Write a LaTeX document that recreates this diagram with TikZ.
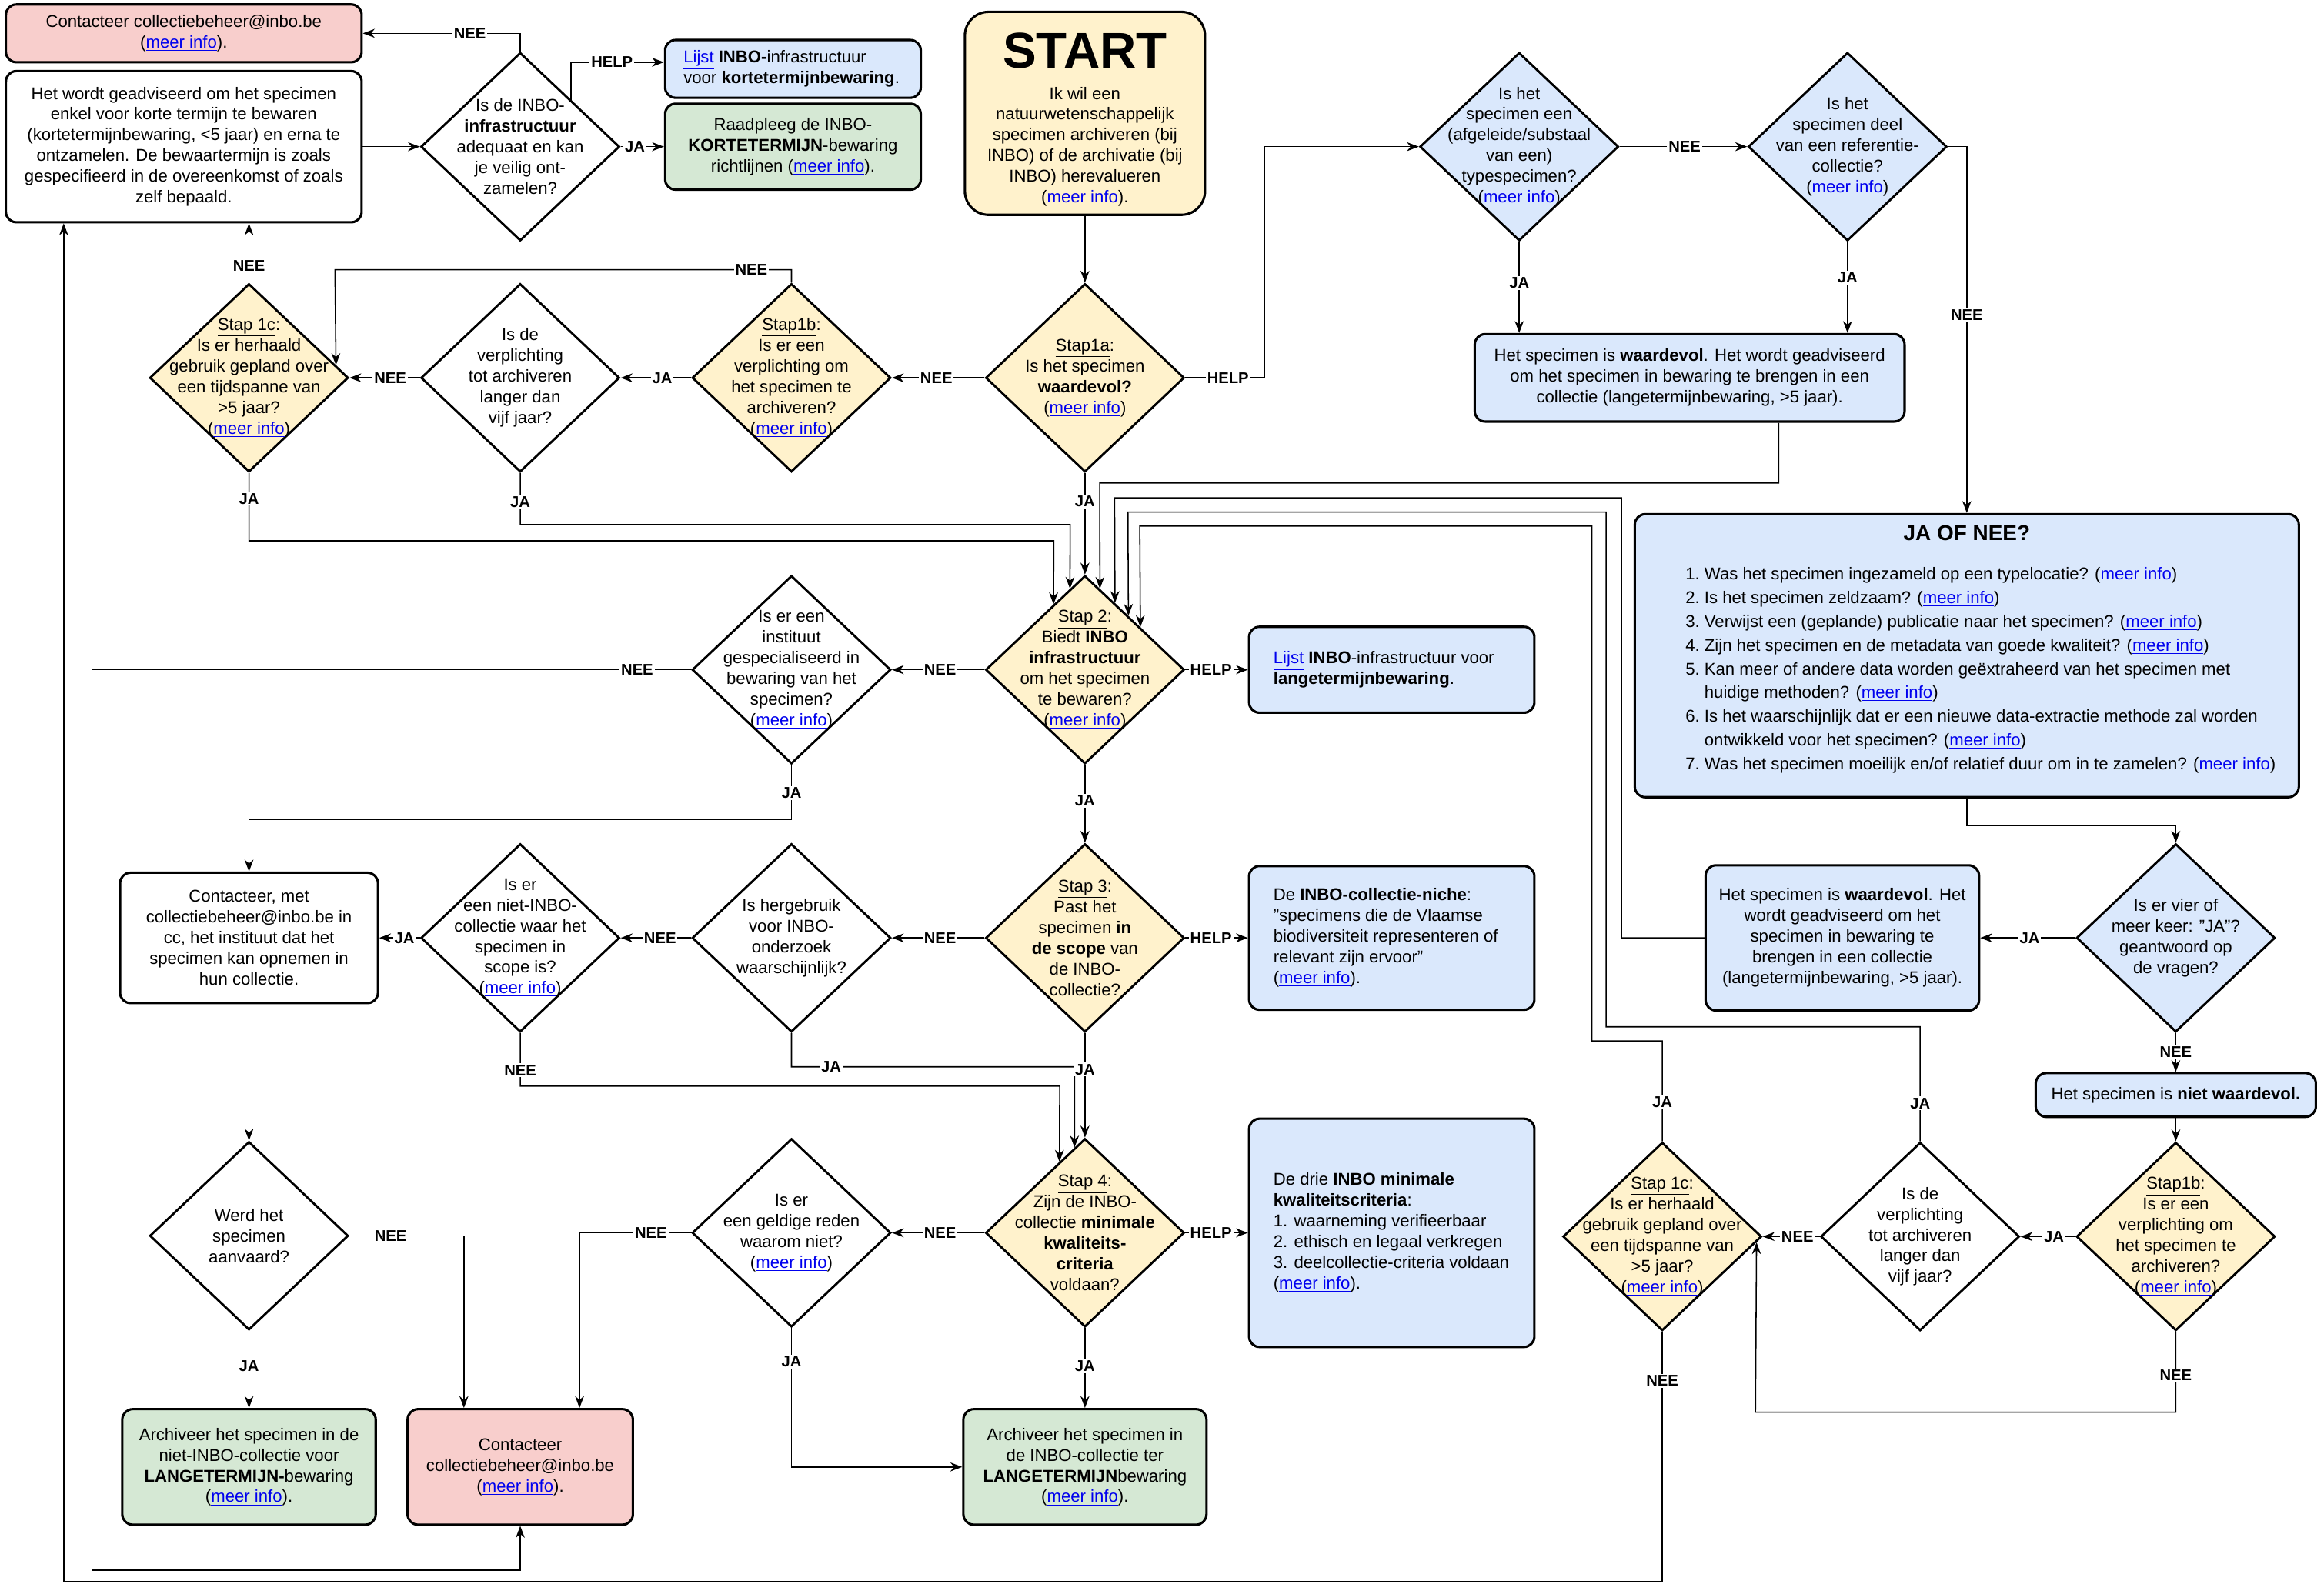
\documentclass[tikz,border=0pt]{standalone}
\usepackage{fontspec}
\setmainfont{Liberation Sans}
\usetikzlibrary{shapes.geometric,arrows.meta,calc}
\definecolor{cyel}{HTML}{FFF2CC}
\definecolor{cpink}{HTML}{F8CECC}
\definecolor{cblue}{HTML}{DAE8FC}
\definecolor{cgreen}{HTML}{D5E8D4}
\definecolor{linkblue}{HTML}{0000EE}
\newcommand{\lnk}[1]{\textcolor{linkblue}{\underline{#1}}}
\newcommand{\mi}{(\lnk{meer info})}
\newcommand{\fsz}{\fontsize{11.5}{14}\selectfont}
\tikzset{
  box/.style={draw=black, line width=1.6pt, rounded corners=7pt, align=center, inner sep=0pt, font=\fsz},
  dia/.style={diamond, draw=black, line width=1.5pt, minimum width=134pt, minimum height=127pt, inner sep=0pt},
  dtx/.style={align=center, inner sep=0pt, font=\fsz},
  ltx/.style={align=left, inner sep=0pt, font=\fsz, anchor=west},
  arr/.style={line width=0.8pt, -{Stealth[length=8pt,width=6pt,inset=2.5pt]}},
  lbl/.style={fill=white, font=\bfseries\fontsize{10.5}{12}\selectfont, inner sep=1pt},
}
\begin{document}
\begin{tikzpicture}[x=1pt,y=-1pt]
\useasboundingbox (0,0) rectangle (1568,1069);

% ---------- boxes ----------
\node[box, fill=cpink, minimum width=240pt, minimum height=39pt] (c1) at (124,22.5) {Contacteer collectiebeheer@inbo.be\\\mi.};
\node[box, fill=white, minimum width=240pt, minimum height=102pt] (w1) at (124,99) {Het wordt geadviseerd om het specimen\\enkel voor korte termijn te bewaren\\(kortetermijnbewaring, <5 jaar) en erna te\\ontzamelen. De bewaartermijn is zoals\\gespecifieerd in de overeenkomst of zoals\\zelf bepaald.};
\node[box, fill=cblue, minimum width=172.5pt, minimum height=39pt] (lk) at (535,46.5) {};
\node[ltx] (lkt) at (461,46.5) {\lnk{Lijst} \textbf{INBO-}infrastructuur\\voor \textbf{kortetermijnbewaring}.};
\node[box, fill=cgreen, minimum width=172.5pt, minimum height=58pt] (rk) at (535,99) {Raadpleeg de INBO-\\\textbf{KORTETERMIJN}-bewaring\\richtlijnen (\lnk{meer info}).};
\node[box, fill=cyel, rounded corners=16pt, minimum width=162pt, minimum height=137pt] (start) at (732,76.5) {};
\node[font=\bfseries\fontsize{34}{40}\selectfont, inner sep=0pt] (startt) at (732,34) {START};
\node[dtx] (startd) at (732,99) {Ik wil een\\natuurwetenschappelijk\\specimen archiveren (bij\\INBO) of de archivatie (bij\\INBO) herevalueren\\(\lnk{meer info}).};
\node[box, fill=cblue, minimum width=290pt, minimum height=59pt] (wv1) at (1140,255) {Het specimen is \textbf{waardevol}. Het wordt geadviseerd\\om het specimen in bewaring te brengen in een\\collectie (langetermijnbewaring, >5 jaar).};
\node[box, fill=cblue, minimum width=448pt, minimum height=191pt] (jon) at (1327,442.5) {};
\node[font=\bfseries\fontsize{14.5}{18}\selectfont, inner sep=0pt] (jont) at (1327,360) {JA OF NEE?};
\node[anchor=north west, inner sep=0pt, font=\fontsize{11.5}{16}\selectfont] (jonl) at (1137,380) {\begin{tabular}{@{}r@{\ }l@{}}
1. & Was het specimen ingezameld op een typelocatie? (\lnk{meer info})\\
2. & Is het specimen zeldzaam? (\lnk{meer info})\\
3. & Verwijst een (geplande) publicatie naar het specimen? (\lnk{meer info})\\
4. & Zijn het specimen en de metadata van goede kwaliteit? (\lnk{meer info})\\
5. & Kan meer of andere data worden geëxtraheerd van het specimen met\\
   & huidige methoden? (\lnk{meer info})\\
6. & Is het waarschijnlijk dat er een nieuwe data-extractie methode zal worden\\
   & ontwikkeld voor het specimen? (\lnk{meer info})\\
7. & Was het specimen moeilijk en/of relatief duur om in te zamelen? (\lnk{meer info})
\end{tabular}};
\node[box, fill=cblue, minimum width=192.5pt, minimum height=58pt] (ll) at (939,452) {};
\node[ltx] (llt) at (859,452) {\lnk{Lijst} \textbf{INBO}-infrastructuur voor\\\textbf{langetermijnbewaring}.};
\node[box, fill=cblue, minimum width=192.5pt, minimum height=97pt] (niche) at (939,633) {};
\node[ltx] (nichet) at (859,633) {De \textbf{INBO-collectie-niche}:\\"specimens die de Vlaamse\\biodiversiteit representeren of\\relevant zijn ervoor"\\\mi.};
\node[box, fill=cblue, minimum width=192.5pt, minimum height=154pt] (crit) at (939,832) {};
\node[ltx] (critt) at (859,832) {De drie \textbf{INBO minimale}\\\textbf{kwaliteitscriteria}:\\1. waarneming verifieerbaar\\2. ethisch en legaal verkregen\\3. deelcollectie-criteria voldaan\\\mi.};
\node[box, fill=white, minimum width=174pt, minimum height=88pt] (cm) at (168,633) {Contacteer, met\\collectiebeheer@inbo.be in\\cc, het instituut dat het\\specimen kan opnemen in\\hun collectie.};
\node[box, fill=cblue, minimum width=184.5pt, minimum height=98pt] (wv2) at (1243,633) {Het specimen is \textbf{waardevol}. Het\\wordt geadviseerd om het\\specimen in bewaring te\\brengen in een collectie\\(langetermijnbewaring, >5 jaar).};
\node[box, fill=cblue, minimum width=189pt, minimum height=29.5pt] (nw) at (1468,739) {Het specimen is \textbf{niet waardevol.}};
\node[box, fill=cgreen, minimum width=171pt, minimum height=78pt] (gl) at (168,990) {Archiveer het specimen in de\\niet-INBO-collectie voor\\\textbf{LANGETERMIJN-}bewaring\\\mi.};
\node[box, fill=cpink, minimum width=152pt, minimum height=78pt] (pk) at (351,990) {Contacteer\\collectiebeheer@inbo.be\\\mi.};
\node[box, fill=cgreen, minimum width=164pt, minimum height=78pt] (gr) at (732,990) {Archiveer het specimen in\\de INBO-collectie ter\\\textbf{LANGETERMIJN}bewaring\\\mi.};

% ---------- diamonds ----------
\node[dia, fill=white] (d1) at (351,99) {};
\node[dtx] (d1t) at (d1) {Is de INBO-\\\textbf{infrastructuur}\\adequaat en kan\\je veilig ont-\\zamelen?};
\node[dia, fill=cblue] (dts) at (1025,99) {};
\node[dtx] (dtst) at (dts) {Is het\\specimen een\\(afgeleide/substaal\\van een)\\typespecimen?\\\mi};
\node[dia, fill=cblue] (dref) at (1246.5,99) {};
\node[dtx] (dreft) at (dref) {Is het\\specimen deel\\van een referentie-\\collectie?\\\mi};
\node[dia, fill=cyel] (s1c) at (168,255) {};
\node[dtx] (s1ct) at (s1c) {\underline{Stap 1c}:\\Is er herhaald\\gebruik gepland over\\een tijdspanne van\\>5 jaar?\\\mi};
\node[dia, fill=white] (dv1) at (351,255) {};
\node[dtx] (dv1t) at (dv1) {Is de\\verplichting\\tot archiveren\\langer dan\\vijf jaar?};
\node[dia, fill=cyel] (s1b) at (534,255) {};
\node[dtx] (s1bt) at (s1b) {\underline{Stap1b}:\\Is er een\\verplichting om\\het specimen te\\archiveren?\\\mi};
\node[dia, fill=cyel] (s1a) at (732,255) {};
\node[dtx] (s1at) at (s1a) {\underline{Stap1a}:\\Is het specimen\\\textbf{waardevol?}\\\mi};
\node[dia, fill=cyel] (s2) at (732,452) {};
\node[dtx] (s2t) at (s2) {\underline{Stap 2}:\\Biedt \textbf{INBO}\\\textbf{infrastructuur}\\om het specimen\\te bewaren?\\\mi};
\node[dia, fill=white] (dins) at (534,452) {};
\node[dtx] (dinst) at (dins) {Is er een\\instituut\\gespecialiseerd in\\bewaring van het\\specimen?\\\mi};
\node[dia, fill=cyel] (s3) at (732,633) {};
\node[dtx] (s3t) at (s3) {\underline{Stap 3}:\\Past het\\specimen \textbf{in}\\\textbf{de scope} van\\de INBO-\\collectie?};
\node[dia, fill=white] (dherg) at (534,633) {};
\node[dtx] (dhergt) at (dherg) {Is hergebruik\\voor INBO-\\onderzoek\\waarschijnlijk?};
\node[dia, fill=white] (dniet) at (351,633) {};
\node[dtx] (dniett) at (dniet) {Is er\\een niet-INBO-\\collectie waar het\\specimen in\\scope is?\\\mi};
\node[dia, fill=cblue] (dvier) at (1468,633) {};
\node[dtx] (dviert) at (dvier) {Is er vier of\\meer keer: "JA"?\\geantwoord op\\de vragen?};
\node[dia, fill=cyel] (s4) at (732,832) {};
\node[dtx] (s4t) at (s4) {\underline{Stap 4}:\\Zijn de INBO-\\collectie \textbf{minimale}\\\textbf{kwaliteits-}\\\textbf{criteria}\\voldaan?};
\node[dia, fill=white] (dgeld) at (534,832) {};
\node[dtx] (dgeldt) at (dgeld) {Is er\\een geldige reden\\waarom niet?\\\mi};
\node[dia, fill=white] (dwerd) at (168,834) {};
\node[dtx] (dwerdt) at (dwerd) {Werd het\\specimen\\aanvaard?};
\node[dia, fill=cyel] (s1c2) at (1121.5,834.5) {};
\node[dtx] (s1c2t) at (s1c2) {\underline{Stap 1c}:\\Is er herhaald\\gebruik gepland over\\een tijdspanne van\\>5 jaar?\\\mi};
\node[dia, fill=white] (dv2) at (1295.5,834.5) {};
\node[dtx] (dv2t) at (dv2) {Is de\\verplichting\\tot archiveren\\langer dan\\vijf jaar?};
\node[dia, fill=cyel] (s1b2) at (1468,834.5) {};
\node[dtx] (s1b2t) at (s1b2) {\underline{Stap1b}:\\Is er een\\verplichting om\\het specimen te\\archiveren?\\\mi};

% ---------- connectors ----------
\draw[arr] (w1.east) -- (d1.west);
\draw[arr] (d1.north) |- node[lbl,pos=0.66] (l1) {NEE} (c1.east);
\draw[arr] ($(d1.north)!0.507!(d1.east)$) |- node[lbl,pos=0.72] (l2) {HELP} ([yshift=4.5pt]lk.west);
\draw[arr] (d1.east) -- node[lbl,pos=0.33] (l3) {JA} (rk.west);
\draw[arr] (start.south) -- (s1a.north);
\draw[arr] (s1a.east) -- node[lbl,pos=0.54] (l4) {HELP} (853,255) |- (dts.west);
\draw[arr] (dts.east) -- node[lbl,pos=0.51] (l5) {NEE} (dref.west);
\draw[arr] (dts.south) -- node[lbl,pos=0.45] (l6) {JA} (dts.south |- wv1.north);
\draw[arr] (dref.south) -- node[lbl,pos=0.39] (l7) {JA} (dref.south |- wv1.north);
\draw[arr] (dref.east) -| node[lbl,pos=0.73] (l8) {NEE} (jon.north);
\draw[arr] (s1a.west) -- node[lbl,pos=0.52] (l9) {NEE} (s1b.east);
\draw[arr] (s1b.west) -- node[lbl,pos=0.41] (l10) {JA} (dv1.east);
\draw[arr] (dv1.west) -- node[lbl,pos=0.42] (l11) {NEE} (s1c.east);
\draw[arr] (s1b.north) |- node[lbl,pos=0.544] (l12) {NEE} (226,182) -- ($(s1c.north)!0.866!(s1c.east)$);
\draw[arr] (s1c.north) -- node[lbl,pos=0.29] (l13) {NEE} (s1c.north |- w1.south);
\draw[arr] (s1c.south) |- node[lbl,pos=0.19] (l14) {JA} (711,365) -- ($(s2.north)!0.313!(s2.west)$);
\draw[arr] (dv1.south) |- node[lbl,pos=0.28] (l15) {JA} (722,354) -- ($(s2.north)!0.149!(s2.west)$);
\draw[arr] (s1a.south) -- node[lbl,pos=0.28] (l16) {JA} (s2.north);
\draw[arr] ([xshift=60pt]wv1.south) |- (742,326) -- ($(s2.north)!0.149!(s2.east)$);
\draw[arr] (wv2.west) -| (1094,336) -- (752,336) -- ($(s2.north)!0.299!(s2.east)$);
\draw[arr] (dv2.north) |- node[lbl,pos=0.165] (l17) {JA} (1083.6,693) |- (761,345.6) -- ($(s2.north)!0.433!(s2.east)$);
\draw[arr] (s1c2.north) |- node[lbl,pos=0.196] (l18) {JA} (1074,702.6) |- (769,355) -- ($(s2.north)!0.552!(s2.east)$);
\draw[arr] (s2.east) -- node[lbl,pos=0.41] (l19) {HELP} (ll.west);
\draw[arr] (s2.west) -- node[lbl,pos=0.48] (l20) {NEE} (dins.east);
\draw[arr] (dins.west) -- node[lbl,pos=0.09] (l21) {NEE} (62,452) |- ([yshift=-30pt]pk.south) -- (pk.south);
\draw[arr] (dins.south) |- node[lbl,pos=0.26] (l22) {JA} (168,553) -- (cm.north);
\draw[arr] (s2.south) -- node[lbl,pos=0.46] (l23) {JA} (s3.north);
\draw[arr] (s3.east) -- node[lbl,pos=0.41] (l24) {HELP} (niche.west);
\draw[arr] (s3.west) -- node[lbl,pos=0.48] (l25) {NEE} (dherg.east);
\draw[arr] (dherg.west) -- node[lbl,pos=0.44] (l26) {NEE} (dniet.east);
\draw[arr] (dniet.west) -- node[lbl,pos=0.38] (l27) {JA} (cm.east);
\draw[arr] (dherg.south) |- node[lbl,pos=0.57] (l28) {JA} (725,720) -- ($(s4.north)!0.104!(s4.west)$);
\draw[arr] (dniet.south) |- node[lbl,pos=0.35] (l29) {NEE} (715,733) -- ($(s4.north)!0.254!(s4.west)$);
\draw[arr] (s3.south) -- node[lbl,pos=0.35] (l30) {JA} (s4.north);
\draw[arr] (s4.east) -- node[lbl,pos=0.41] (l31) {HELP} (crit.west);
\draw[arr] (s4.west) -- node[lbl,pos=0.48] (l32) {NEE} (dgeld.east);
\draw[arr] (dgeld.west) -| node[lbl,pos=0.18] (l33) {NEE} ([xshift=40pt]pk.north);
\draw[arr] (dgeld.south) |- node[lbl,pos=0.12] (l34) {JA} (gr.west);
\draw[arr] (s4.south) -- node[lbl,pos=0.48] (l35) {JA} (gr.north);
\draw[arr] (cm.south) -- (dwerd.north);
\draw[arr] (dwerd.east) -| node[lbl,pos=0.18] (l36) {NEE} ([xshift=-38pt]pk.north);
\draw[arr] (dwerd.south) -- node[lbl,pos=0.46] (l37) {JA} (gl.north);
\draw[arr] (jon.south) |- (1468,557) -- (dvier.north);
\draw[arr] (dvier.west) -- node[lbl,pos=0.48] (l38) {JA} (wv2.east);
\draw[arr] (dvier.south) -- node[lbl,pos=0.48] (l39) {NEE} (nw.north);
\draw[arr] (nw.south) -- (s1b2.north);
\draw[arr] (s1b2.west) -- node[lbl,pos=0.39] (l40) {JA} (dv2.east);
\draw[arr] (dv2.west) -- node[lbl,pos=0.39] (l41) {NEE} (s1c2.east);
\draw[arr] (s1b2.south) |- node[lbl,pos=0.27] (l42) {NEE} (1184.4,953) -- ($(s1c2.east)!0.061!(s1c2.south)$);
\draw[arr] (s1c2.south) |- node[lbl,pos=0.098] (l43) {NEE} (43,1067.5) -- ([xshift=-81pt]w1.south);
\end{tikzpicture}
\end{document}
